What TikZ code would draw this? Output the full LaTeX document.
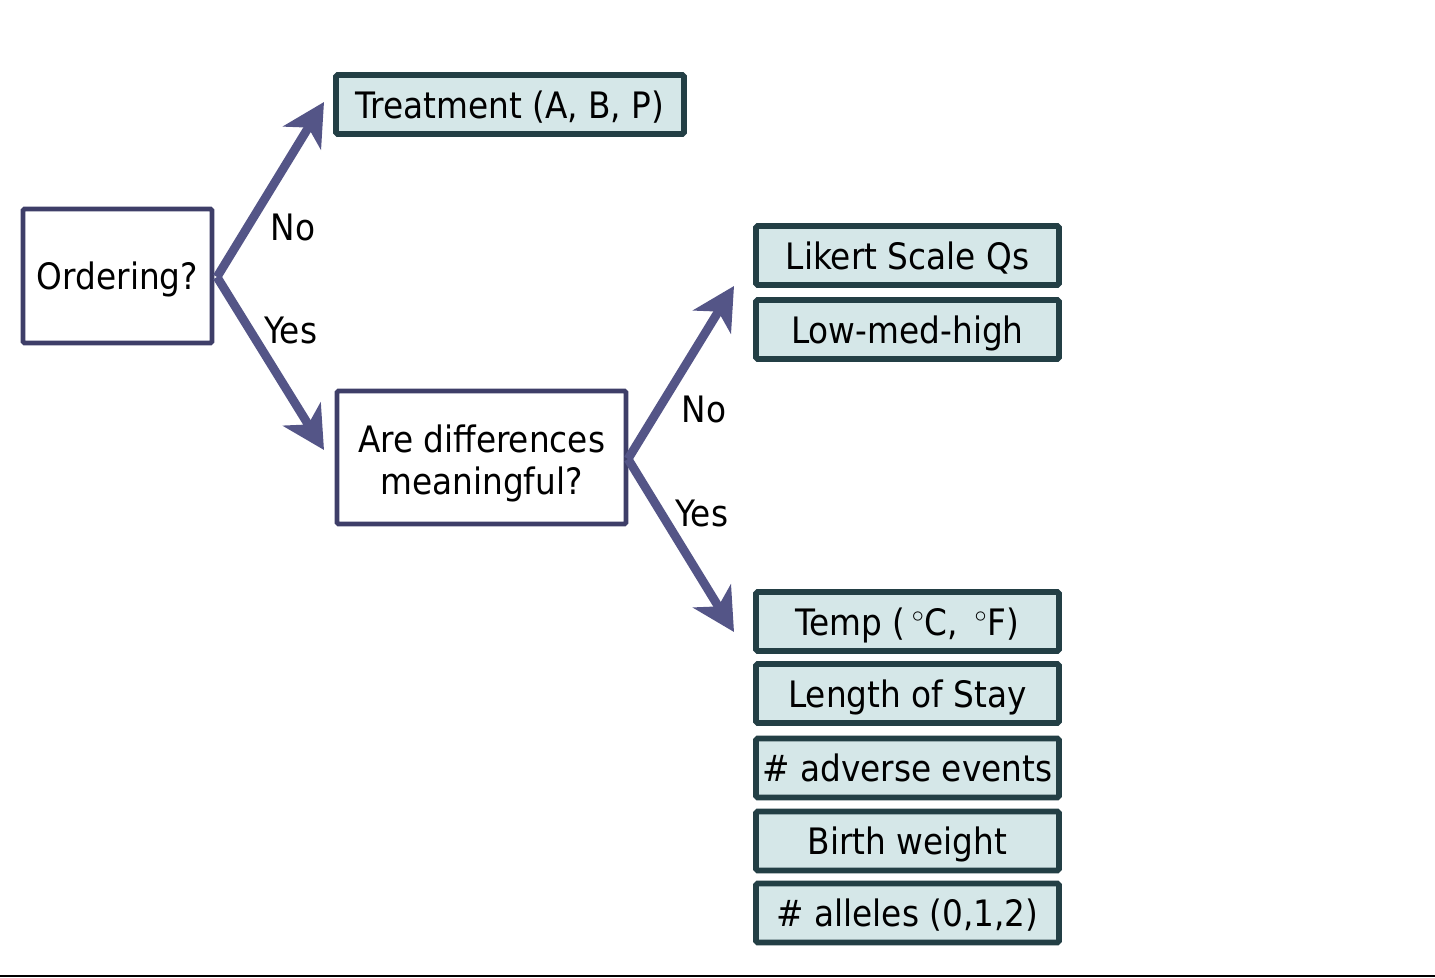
\documentclass[tikz,border=0pt]{standalone}
\usepackage{fontspec}
\setmainfont{DejaVu Sans Condensed}
\usetikzlibrary{arrows.meta}
\definecolor{navy}{HTML}{3E3E68}
\definecolor{arr}{HTML}{545587}
\definecolor{tealb}{HTML}{233F45}
\definecolor{lblue}{HTML}{D5E7E8}
\begin{document}
\begin{tikzpicture}[x=0.5pt,y=-0.5pt,
  fnt/.style={font=\fontsize{18.2}{21}\selectfont},
  qbox/.style={draw=navy,line width=2.4pt,fill=white,rounded corners=0.8pt,inner sep=0pt,fnt,align=center},
  abox/.style={draw=tealb,line width=2.8pt,fill=lblue,rounded corners=0.8pt,inner sep=0pt,fnt,minimum width=151.5pt,minimum height=29.5pt,text height=13.6pt,text depth=0pt},
  conn/.style={draw=arr,line width=4.4pt,-{Stealth[length=21pt,width=22pt,inset=6pt]}},
  lbl/.style={fnt}]
\useasboundingbox (0,0) rectangle (1435,978);
\draw[line width=1.2pt] (0,976) -- (1435,976);
\node[qbox,minimum width=94.5pt,minimum height=67pt,text height=13.6pt,text depth=0pt] (ord) at (117.5,276) {Ordering?};
\node[abox,minimum width=174pt] (trt) at (510,104.5) {Treatment (A, B, P)};
\node[qbox,minimum width=144.5pt,minimum height=66.5pt] (diff) at (481.5,457.5) {};
\node[fnt,align=center,inner sep=0pt] (difft) at (481.5,463) {Are differences\\meaningful?};
\node[abox] (lik) at (907.5,255.5) {Likert Scale Qs};
\node[abox] (low) at (907.5,329.5) {Low-med-high};
\node[abox] (tmp) at (907.5,621.5) {Temp (\,$^\circ$C, \,$^\circ$F)};
\node[abox] (los) at (907.5,693.5) {Length of Stay};
\node[abox] (adv) at (907.5,768) {\# adverse events};
\node[abox] (bw) at (907.5,841) {Birth weight};
\node[abox] (all) at (907.5,913) {\# alleles (0,1,2)};
\coordinate (j1) at (217,277);
\coordinate (e1) at (324,102);
\coordinate (e2) at (324,450);
\coordinate (j2) at (628,459);
\coordinate (e3) at (734,286);
\coordinate (e4) at (734,632);
\draw[conn] (j1) -- (e1);
\draw[conn] (j1) -- (e2);
\draw[conn] (j2) -- (e3);
\draw[conn] (j2) -- (e4);
\node[lbl] (no1) at (293,227) {No};
\node[lbl] (yes1) at (291,330) {Yes};
\node[lbl] (no2) at (704,409) {No};
\node[lbl] (yes2) at (702,513) {Yes};
\end{tikzpicture}
\end{document}
